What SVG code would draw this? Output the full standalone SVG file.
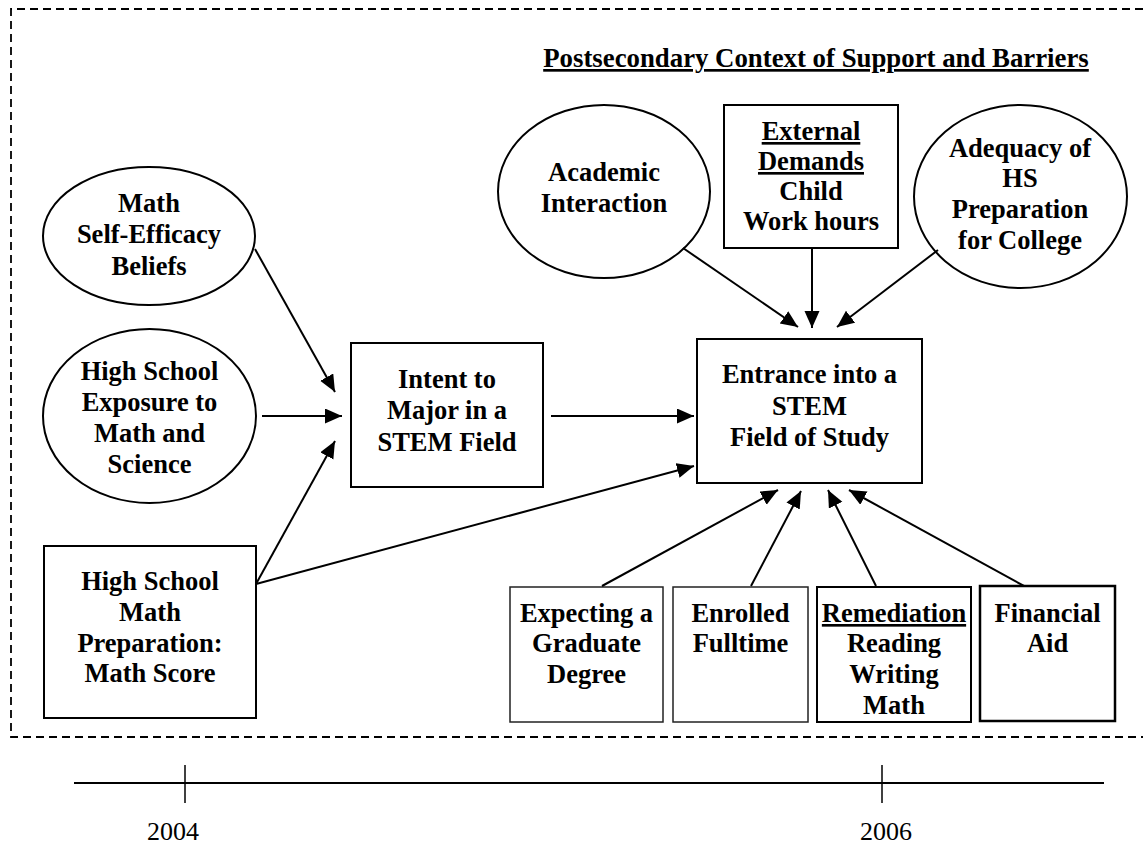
<svg xmlns="http://www.w3.org/2000/svg" width="1143" height="846" viewBox="0 0 1143 846">
<style>
.t{font-family:"Liberation Serif","Times New Roman",serif;font-weight:bold;font-size:26.5px;fill:#000;text-anchor:middle}
.y{font-family:"Liberation Serif","Times New Roman",serif;font-size:26px;fill:#000;text-anchor:middle}
.u{text-decoration:underline}
.n{fill:#fff;stroke:#000;stroke-width:2}
.thin{fill:#fff;stroke:#222;stroke-width:1.5}
.c{stroke:#000;stroke-width:2;fill:none;marker-end:url(#ah)}
.d{stroke:#000;stroke-width:1.8;fill:none;stroke-dasharray:8 5}
</style>
<defs>
<marker id="ah" markerUnits="userSpaceOnUse" markerWidth="18" markerHeight="16" refX="17" refY="7.5" orient="auto">
<path d="M0,0 L17,7.5 L0,15 z" fill="#000"/>
</marker>
</defs>
<rect width="1143" height="846" fill="#fff"/>
<g id="frame">
<path class="d" d="M1143,9 H11 V737 H1143"/>
</g>
<g id="title"><text class="t u" x="816" y="67" style="font-size:26.8px">Postsecondary Context of Support and Barriers</text></g>

<g id="selfEfficacy"><ellipse class="n" cx="149" cy="236" rx="106" ry="69"/>
<text class="t" x="149"><tspan x="149" y="212">Math</tspan><tspan x="149" y="243">Self-Efficacy</tspan><tspan x="149" y="275">Beliefs</tspan></text></g>

<g id="hsExposure"><ellipse class="n" cx="149.5" cy="416" rx="106.5" ry="87"/>
<text class="t"><tspan x="149.5" y="380">High School</tspan><tspan x="149.5" y="411">Exposure to</tspan><tspan x="149.5" y="442">Math and</tspan><tspan x="149.5" y="473">Science</tspan></text></g>

<g id="hsMathPrep"><rect class="n" x="44" y="546" width="212" height="172"/>
<text class="t"><tspan x="150" y="590">High School</tspan><tspan x="150" y="621">Math</tspan><tspan x="150" y="652">Preparation:</tspan><tspan x="150" y="682">Math Score</tspan></text></g>

<g id="intent"><rect class="n" x="351" y="343" width="192" height="144"/>
<text class="t"><tspan x="447" y="388">Intent to</tspan><tspan x="447" y="419">Major in a</tspan><tspan x="447" y="451">STEM Field</tspan></text></g>

<g id="entrance"><rect class="n" x="697" y="339" width="225" height="144"/>
<text class="t"><tspan x="809.5" y="383">Entrance into a</tspan><tspan x="809.5" y="415">STEM</tspan><tspan x="809.5" y="446">Field of Study</tspan></text></g>

<g id="academic"><ellipse class="n" cx="604" cy="191.5" rx="106" ry="86.5"/>
<text class="t"><tspan x="604" y="181">Academic</tspan><tspan x="604" y="212">Interaction</tspan></text></g>

<g id="external"><rect class="n" x="724" y="105" width="174" height="143"/>
<text class="t"><tspan class="u" x="811" y="140">External</tspan><tspan class="u" x="811" y="170">Demands</tspan><tspan x="811" y="200">Child</tspan><tspan x="811" y="230">Work hours</tspan></text></g>

<g id="adequacy"><ellipse class="n" cx="1020.5" cy="196.5" rx="106.5" ry="91.5"/>
<text class="t"><tspan x="1020" y="157">Adequacy of</tspan><tspan x="1020" y="187">HS</tspan><tspan x="1020" y="218">Preparation</tspan><tspan x="1020" y="249">for College</tspan></text></g>

<g id="expecting"><rect class="thin" x="510" y="587" width="153" height="135"/>
<text class="t"><tspan x="586.5" y="622">Expecting a</tspan><tspan x="586.5" y="652">Graduate</tspan><tspan x="586.5" y="683">Degree</tspan></text></g>

<g id="enrolled"><rect class="thin" x="673" y="587" width="135" height="135"/>
<text class="t"><tspan x="740.5" y="622">Enrolled</tspan><tspan x="740.5" y="652">Fulltime</tspan></text></g>

<g id="remediation"><rect class="n" x="817" y="587" width="154" height="135"/>
<text class="t"><tspan class="u" x="894" y="622">Remediation</tspan><tspan x="894" y="652">Reading</tspan><tspan x="894" y="683">Writing</tspan><tspan x="894" y="714">Math</tspan></text></g>

<g id="financial"><rect class="n" x="980" y="586" width="135" height="135" style="stroke-width:2.5"/>
<text class="t"><tspan x="1047.5" y="622">Financial</tspan><tspan x="1047.5" y="652">Aid</tspan></text></g>

<g id="connectors">
<line class="c" x1="255" y1="249" x2="335" y2="392"/>
<line class="c" x1="262" y1="416" x2="342" y2="416"/>
<line class="c" x1="256" y1="584" x2="335" y2="441"/>
<line class="c" x1="256" y1="584" x2="694" y2="466"/>
<line class="c" x1="551" y1="416" x2="694" y2="416"/>
<line class="c" x1="683" y1="248" x2="798" y2="327"/>
<line class="c" x1="812" y1="248" x2="812" y2="328"/>
<line class="c" x1="938" y1="250" x2="837" y2="327"/>
<line class="c" x1="602" y1="586" x2="778" y2="490"/>
<line class="c" x1="751" y1="586" x2="801" y2="491"/>
<line class="c" x1="876" y1="586" x2="828" y2="490"/>
<line class="c" x1="1024" y1="586" x2="849" y2="490"/>
</g>

<g id="timeline">
<line x1="74" y1="783" x2="1104" y2="783" stroke="#000" stroke-width="2"/>
<line x1="185" y1="765" x2="185" y2="803" stroke="#000" stroke-width="1.5"/>
<line x1="882" y1="765" x2="882" y2="803" stroke="#000" stroke-width="1.5"/>
<text class="y" x="173" y="840">2004</text>
<text class="y" x="886" y="840">2006</text>
</g>
</svg>
